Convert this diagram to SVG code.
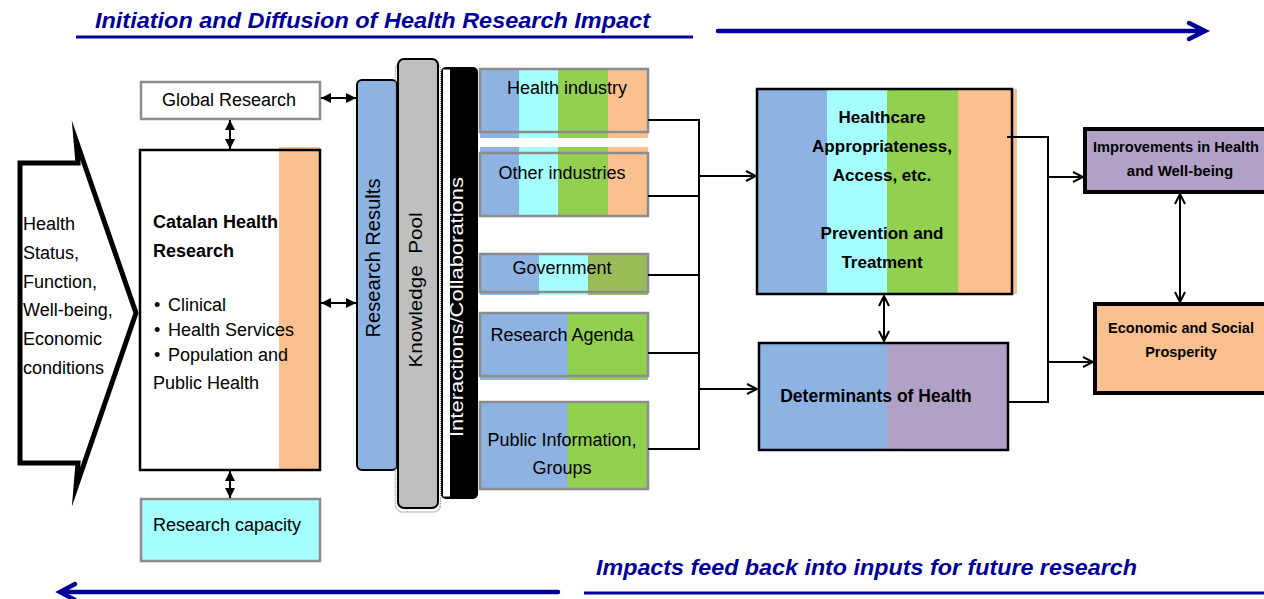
<svg xmlns="http://www.w3.org/2000/svg" width="1264" height="599" viewBox="0 0 1264 599">
<defs>
<style>
text{font-family:"Liberation Sans",Arial,sans-serif;fill:#000}
.t{font-size:18px}
.b{font-size:17px;font-weight:bold}
.s{font-size:14.5px;font-weight:bold}
.title{font-size:22px;font-weight:bold;font-style:italic;fill:#000099}
.gb{fill:none;stroke:#8c8c8c;stroke-width:2.5}
.bk{fill:none;stroke:#000;stroke-width:2.5}
.ln{fill:none;stroke:#000;stroke-width:2}
.blue{stroke:#000099;fill:none;stroke-width:4.5;stroke-linecap:round}
</style>
<marker id="tri" viewBox="0 0 10 10" refX="10" refY="5" markerWidth="10" markerHeight="10" markerUnits="userSpaceOnUse" orient="auto-start-reverse">
<path d="M0,0 L10,5 L0,10 z" fill="#000"/>
</marker>
<marker id="chev" viewBox="0 0 12 12" refX="11" refY="6" markerWidth="12" markerHeight="12" markerUnits="userSpaceOnUse" orient="auto-start-reverse">
<path d="M1,1 L11,6 L1,11" fill="none" stroke="#000" stroke-width="2"/>
</marker>
</defs>

<g id="title-top">
<text class="title" x="95" y="28" textLength="555" lengthAdjust="spacingAndGlyphs">Initiation and Diffusion of Health Research Impact</text>
<line x1="76" y1="37" x2="693" y2="37" stroke="#000099" stroke-width="3"/>
<path class="blue" d="M718,31 H1203"/>
<path class="blue" d="M1189,23 L1205,31 L1189,39" stroke-linejoin="miter"/>
</g>

<g id="title-bottom">
<text class="title" x="596" y="575" textLength="541" lengthAdjust="spacingAndGlyphs">Impacts feed back into inputs for future research</text>
<line x1="584" y1="593" x2="1264" y2="593" stroke="#000099" stroke-width="3"/>
<path class="blue" d="M62,592 H558"/>
<path class="blue" d="M75,584 L60,592 L75,600" stroke-linejoin="miter"/>
</g>

<g id="health-status">
<path d="M20,163 H78 L76,140 L136,313 L76,487 L78,463 H20 Z" fill="#fff" stroke="#000" stroke-width="5" stroke-miterlimit="20"/>
<text class="t" x="23" y="230">Health</text>
<text class="t" x="23" y="259">Status,</text>
<text class="t" x="23" y="288">Function,</text>
<text class="t" x="23" y="316">Well-being,</text>
<text class="t" x="23" y="345">Economic</text>
<text class="t" x="23" y="374">conditions</text>
</g>

<g id="global-research">
<rect x="141" y="82" width="179" height="37" class="gb" style="fill:#fff"/>
<text class="t" x="229" y="106" text-anchor="middle">Global Research</text>
</g>

<g id="catalan">
<rect x="140" y="150" width="180" height="320" fill="#fff"/>
<rect x="279" y="147" width="41" height="323" fill="#FAC090"/>
<rect x="140" y="150" width="180" height="320" class="bk"/>
<text x="153" y="228" style="font-size:18px;font-weight:bold">Catalan Health</text>
<text x="153" y="257" style="font-size:18px;font-weight:bold">Research</text>
<text class="t" x="154" y="311">•</text><text class="t" x="168" y="311">Clinical</text>
<text class="t" x="154" y="336">•</text><text class="t" x="168" y="336">Health Services</text>
<text class="t" x="154" y="361">•</text><text class="t" x="168" y="361">Population and</text>
<text class="t" x="153" y="389">Public Health</text>
</g>

<g id="research-capacity">
<rect x="141" y="499" width="179" height="62" class="gb" style="fill:#A5FFFF"/>
<text class="t" x="227" y="531" text-anchor="middle">Research capacity</text>
</g>

<g id="research-results">
<rect x="357" y="80" width="40" height="390" rx="5" fill="#8DB3E2" stroke="#000" stroke-width="2"/>
<text transform="translate(380,258) rotate(-90)" text-anchor="middle" style="font-size:20px" textLength="159" lengthAdjust="spacingAndGlyphs">Research Results</text>
</g>

<g id="knowledge-pool">
<rect x="395.5" y="62" width="45" height="450" rx="7" fill="none" stroke="#999" stroke-width="1.5" stroke-dasharray="1 1"/>
<rect x="398" y="59" width="40" height="449" rx="6" fill="#BFBFBF" stroke="#000" stroke-width="2"/>
<text transform="translate(422,290) rotate(-90)" text-anchor="middle" style="font-size:19px;white-space:pre" textLength="155" lengthAdjust="spacingAndGlyphs">Knowledge  Pool</text>
</g>

<g id="interactions">
<rect x="441" y="67" width="37" height="432" rx="5" fill="#000"/>
<rect x="443" y="69.5" width="7" height="427" fill="#fff"/>
<text transform="translate(463,307) rotate(-90)" text-anchor="middle" style="font-size:19px;fill:#fff" textLength="260" lengthAdjust="spacingAndGlyphs">Interactions/Collaborations</text>
</g>

<g id="health-industry">
<rect x="480" y="68" width="39" height="70" fill="#8DB3E2"/>
<rect x="519" y="68" width="39" height="70" fill="#A5FFFF"/>
<rect x="558" y="68" width="50" height="70" fill="#92D050"/>
<rect x="608" y="68" width="40" height="70" fill="#FAC090"/>
<rect x="480" y="69" width="168" height="63" class="gb"/>
<text class="t" x="567" y="94" text-anchor="middle">Health industry</text>
</g>

<g id="other-industries">
<rect x="480" y="147" width="39" height="69" fill="#8DB3E2"/>
<rect x="519" y="147" width="39" height="69" fill="#A5FFFF"/>
<rect x="558" y="147" width="50" height="69" fill="#92D050"/>
<rect x="608" y="147" width="40" height="69" fill="#FAC090"/>
<rect x="480" y="153" width="168" height="63" class="gb"/>
<text class="t" x="562" y="179" text-anchor="middle">Other industries</text>
</g>

<g id="government">
<rect x="480" y="254" width="59" height="41" fill="#8DB3E2"/>
<rect x="539" y="254" width="49" height="41" fill="#A5FFFF"/>
<rect x="588" y="254" width="60" height="41" fill="#9BBB59"/>
<rect x="480" y="254" width="168" height="38" class="gb"/>
<text class="t" x="562" y="274" text-anchor="middle">Government</text>
</g>

<g id="research-agenda">
<rect x="480" y="313" width="88" height="67" fill="#8DB3E2"/>
<rect x="568" y="313" width="80" height="67" fill="#92D050"/>
<rect x="480" y="313" width="168" height="63" class="gb"/>
<text class="t" x="562" y="341" text-anchor="middle">Research Agenda</text>
</g>

<g id="public-information">
<rect x="480" y="402" width="88" height="87" fill="#8DB3E2"/>
<rect x="568" y="402" width="80" height="87" fill="#92D050"/>
<rect x="480" y="402" width="168" height="87" class="gb"/>
<text class="t" x="562" y="446" text-anchor="middle">Public Information,</text>
<text class="t" x="562" y="474" text-anchor="middle">Groups</text>
</g>

<g id="healthcare">
<rect x="757" y="89" width="70" height="205" fill="#8DB3E2"/>
<rect x="827" y="89" width="60" height="205" fill="#A5FFFF"/>
<rect x="887" y="89" width="71" height="205" fill="#92D050"/>
<rect x="958" y="89" width="59" height="205" fill="#FAC090"/>
<rect x="757" y="89" width="255" height="205" class="bk"/>
<text class="b" x="882" y="123" text-anchor="middle">Healthcare</text>
<text class="b" x="882" y="152" text-anchor="middle">Appropriateness,</text>
<text class="b" x="882" y="181" text-anchor="middle">Access, etc.</text>
<text class="b" x="882" y="239" text-anchor="middle">Prevention and</text>
<text class="b" x="882" y="268" text-anchor="middle">Treatment</text>
</g>

<g id="determinants">
<rect x="759" y="343" width="128" height="107" fill="#8DB3E2"/>
<rect x="887" y="343" width="121" height="107" fill="#B2A1C7"/>
<rect x="759" y="343" width="249" height="107" class="bk"/>
<text x="876" y="402" text-anchor="middle" style="font-size:17.5px;font-weight:bold">Determinants of Health</text>
</g>

<g id="improvements">
<rect x="1085" y="129" width="195" height="63" fill="#B2A1C7" stroke="#000" stroke-width="4"/>
<text x="1093" y="152" style="font-size:14px;font-weight:bold" textLength="166" lengthAdjust="spacingAndGlyphs">Improvements in Health</text>
<text x="1180" y="176" text-anchor="middle" style="font-size:15px;font-weight:bold">and Well-being</text>
</g>

<g id="prosperity">
<rect x="1095" y="304" width="185" height="89" fill="#FAC090" stroke="#000" stroke-width="4"/>
<text class="s" x="1181" y="333" text-anchor="middle">Economic and Social</text>
<text class="s" x="1181" y="357" text-anchor="middle">Prosperity</text>
</g>

<g id="connectors">
<line class="ln" x1="230" y1="120" x2="230" y2="149" marker-start="url(#tri)" marker-end="url(#tri)"/>
<line class="ln" x1="230" y1="471" x2="230" y2="498" marker-start="url(#tri)" marker-end="url(#tri)"/>
<line class="ln" x1="321" y1="98" x2="356" y2="98" marker-start="url(#tri)" marker-end="url(#tri)"/>
<line class="ln" x1="321" y1="303" x2="356" y2="303" marker-start="url(#tri)" marker-end="url(#tri)"/>
<path class="ln" d="M648,120 H699 M648,196 H699 M648,275 H699 M648,353 H699 M648,449 H699 M699,119 V450"/>
<line class="ln" x1="699" y1="176" x2="756" y2="176" marker-end="url(#chev)"/>
<line class="ln" x1="699" y1="389" x2="757" y2="389" marker-end="url(#chev)"/>
<line class="ln" x1="884" y1="296" x2="884" y2="341" marker-start="url(#chev)" marker-end="url(#chev)"/>
<path class="ln" d="M1007,137 H1048 M1008,402 H1048 M1048,136 V403"/>
<line class="ln" x1="1048" y1="177" x2="1083" y2="177" marker-end="url(#chev)"/>
<line class="ln" x1="1048" y1="362" x2="1093" y2="362" marker-end="url(#chev)"/>
<line class="ln" x1="1180" y1="194" x2="1180" y2="302" marker-start="url(#chev)" marker-end="url(#chev)"/>
</g>
</svg>
